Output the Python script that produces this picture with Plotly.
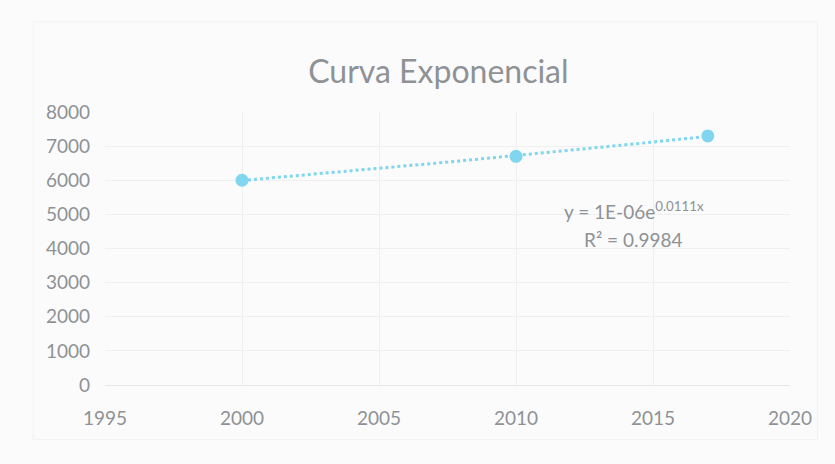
import numpy as np
import plotly.graph_objects as go

# Observed values
years = [2000, 2010, 2017]
values = [6000, 6700, 7300]

# Axis ticks
x_ticks = [1995, 2000, 2005, 2010, 2015, 2020]
y_ticks = [0, 1000, 2000, 3000, 4000, 5000, 6000, 7000, 8000]

title_text = "Curva Exponencial"
equation_text = "y = 1E-06e<sup>0.0111x</sup>"
r2_text = "R² = 0.9984"

# Exponential trendline fitted to the observations
b, ln_a = np.polyfit(years, np.log(values), 1)
trend_x = np.linspace(min(years), max(years), 60)
trend_y = np.exp(ln_a + b * trend_x)

text_color = "#8e9296"
mark_color = "#7fd6ee"
grid_color = "#efefef"
font_family = "Lato, 'Open Sans', sans-serif"

fig = go.Figure()
fig.add_trace(go.Scatter(
    x=trend_x, y=trend_y, mode="lines",
    line=dict(color=mark_color, width=3, dash="dot"),
    hoverinfo="skip", showlegend=False,
))
fig.add_trace(go.Scatter(
    x=years, y=values, mode="markers",
    marker=dict(color=mark_color, size=13),
    showlegend=False,
))

fig.add_annotation(
    x=2014.3, y=5100, xref="x", yref="y",
    text=equation_text, showarrow=False,
    font=dict(family=font_family, size=19, color=text_color),
    xanchor="center", yanchor="middle",
)
fig.add_annotation(
    x=2014.3, y=4250, xref="x", yref="y",
    text=r2_text, showarrow=False,
    font=dict(family=font_family, size=19, color=text_color),
    xanchor="center", yanchor="middle",
)

fig.update_layout(
    width=835, height=464,
    margin=dict(l=105, r=45, t=112, b=79),
    paper_bgcolor="#fbfbfb",
    plot_bgcolor="#fbfbfb",
    title=dict(
        text=title_text, x=0.525, xanchor="center", y=0.845, yanchor="middle",
        font=dict(family=font_family, size=32, color=text_color),
    ),
    font=dict(family=font_family, color=text_color),
)
fig.update_xaxes(
    range=[1995, 2020], tickvals=x_ticks,
    showgrid=True, gridcolor=grid_color, gridwidth=1,
    zeroline=False, showline=True, linecolor="#e6e6e6",
    ticks="", ticklabelstandoff=16,
    tickfont=dict(family=font_family, size=19, color=text_color),
)
fig.update_yaxes(
    range=[0, 8000], tickvals=y_ticks,
    showgrid=True, gridcolor=grid_color, gridwidth=1,
    zeroline=False, showline=False,
    ticks="", ticklabelstandoff=14,
    tickfont=dict(family=font_family, size=19, color=text_color),
)
fig.add_shape(
    type="rect", xref="paper", yref="paper",
    x0=-0.105, x1=1.04, y0=-0.2, y1=1.33,
    line=dict(color="#f2f2f2", width=1),
)

fig.write_html("out.html")
